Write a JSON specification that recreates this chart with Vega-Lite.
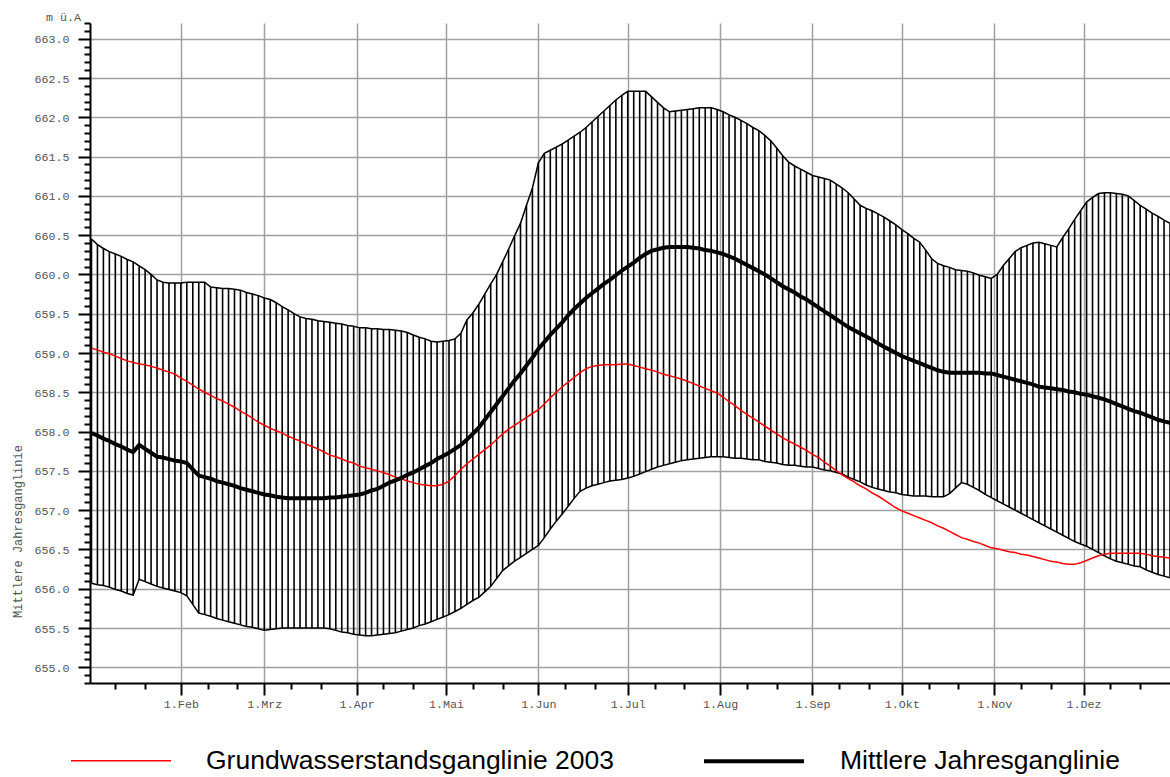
{
  "$schema": "https://vega.github.io/schema/vega-lite/v6.json",
  "width": 1080,
  "height": 660,
  "autosize": {"type": "none"},
  "padding": {"left": 90, "top": 23, "right": 0, "bottom": 94},
  "background": "white",
  "config": {"view": {"stroke": null}},
  "data": {"values": [
{"d":1,"hi":660.45,"lo":656.07,"m":657.98,"gw":659.06},
{"d":3,"hi":660.38,"lo":656.05,"m":657.95,"gw":659.04},
{"d":5,"hi":660.33,"lo":656.04,"m":657.91,"gw":659.01},
{"d":7,"hi":660.29,"lo":656.02,"m":657.88,"gw":658.99},
{"d":9,"hi":660.26,"lo":655.99,"m":657.84,"gw":658.96},
{"d":11,"hi":660.23,"lo":655.97,"m":657.81,"gw":658.93},
{"d":13,"hi":660.19,"lo":655.94,"m":657.77,"gw":658.90},
{"d":15,"hi":660.16,"lo":655.92,"m":657.74,"gw":658.88},
{"d":17,"hi":660.11,"lo":656.12,"m":657.83,"gw":658.86},
{"d":19,"hi":660.06,"lo":656.09,"m":657.78,"gw":658.85},
{"d":21,"hi":660.00,"lo":656.06,"m":657.73,"gw":658.83},
{"d":23,"hi":659.93,"lo":656.03,"m":657.68,"gw":658.81},
{"d":25,"hi":659.90,"lo":656.01,"m":657.67,"gw":658.78},
{"d":27,"hi":659.89,"lo":655.99,"m":657.65,"gw":658.76},
{"d":29,"hi":659.89,"lo":655.97,"m":657.63,"gw":658.73},
{"d":31,"hi":659.89,"lo":655.95,"m":657.62,"gw":658.68},
{"d":33,"hi":659.90,"lo":655.91,"m":657.60,"gw":658.64},
{"d":35,"hi":659.90,"lo":655.80,"m":657.52,"gw":658.59},
{"d":37,"hi":659.90,"lo":655.69,"m":657.44,"gw":658.54},
{"d":39,"hi":659.90,"lo":655.67,"m":657.42,"gw":658.50},
{"d":41,"hi":659.84,"lo":655.65,"m":657.40,"gw":658.46},
{"d":43,"hi":659.83,"lo":655.62,"m":657.37,"gw":658.42},
{"d":45,"hi":659.82,"lo":655.60,"m":657.35,"gw":658.39},
{"d":47,"hi":659.82,"lo":655.58,"m":657.33,"gw":658.35},
{"d":49,"hi":659.81,"lo":655.56,"m":657.31,"gw":658.31},
{"d":51,"hi":659.80,"lo":655.54,"m":657.28,"gw":658.26},
{"d":53,"hi":659.77,"lo":655.52,"m":657.26,"gw":658.22},
{"d":55,"hi":659.75,"lo":655.51,"m":657.24,"gw":658.17},
{"d":57,"hi":659.73,"lo":655.49,"m":657.22,"gw":658.12},
{"d":59,"hi":659.70,"lo":655.47,"m":657.20,"gw":658.08},
{"d":61,"hi":659.68,"lo":655.48,"m":657.19,"gw":658.04},
{"d":63,"hi":659.64,"lo":655.49,"m":657.17,"gw":658.01},
{"d":65,"hi":659.59,"lo":655.50,"m":657.16,"gw":657.98},
{"d":67,"hi":659.55,"lo":655.50,"m":657.15,"gw":657.94},
{"d":69,"hi":659.50,"lo":655.50,"m":657.15,"gw":657.91},
{"d":71,"hi":659.46,"lo":655.50,"m":657.15,"gw":657.88},
{"d":73,"hi":659.44,"lo":655.50,"m":657.15,"gw":657.84},
{"d":75,"hi":659.43,"lo":655.50,"m":657.15,"gw":657.81},
{"d":77,"hi":659.41,"lo":655.50,"m":657.15,"gw":657.78},
{"d":79,"hi":659.40,"lo":655.50,"m":657.15,"gw":657.74},
{"d":81,"hi":659.39,"lo":655.49,"m":657.16,"gw":657.70},
{"d":83,"hi":659.38,"lo":655.47,"m":657.16,"gw":657.68},
{"d":85,"hi":659.37,"lo":655.45,"m":657.17,"gw":657.65},
{"d":87,"hi":659.35,"lo":655.44,"m":657.18,"gw":657.62},
{"d":89,"hi":659.34,"lo":655.42,"m":657.19,"gw":657.60},
{"d":91,"hi":659.32,"lo":655.41,"m":657.20,"gw":657.56},
{"d":93,"hi":659.32,"lo":655.40,"m":657.22,"gw":657.54},
{"d":95,"hi":659.31,"lo":655.40,"m":657.25,"gw":657.52},
{"d":97,"hi":659.31,"lo":655.41,"m":657.27,"gw":657.50},
{"d":99,"hi":659.30,"lo":655.42,"m":657.31,"gw":657.48},
{"d":101,"hi":659.30,"lo":655.43,"m":657.35,"gw":657.45},
{"d":103,"hi":659.29,"lo":655.44,"m":657.38,"gw":657.42},
{"d":105,"hi":659.28,"lo":655.46,"m":657.41,"gw":657.40},
{"d":107,"hi":659.26,"lo":655.48,"m":657.45,"gw":657.37},
{"d":109,"hi":659.23,"lo":655.50,"m":657.48,"gw":657.35},
{"d":111,"hi":659.20,"lo":655.53,"m":657.52,"gw":657.33},
{"d":113,"hi":659.18,"lo":655.55,"m":657.56,"gw":657.32},
{"d":115,"hi":659.15,"lo":655.58,"m":657.60,"gw":657.31},
{"d":117,"hi":659.14,"lo":655.61,"m":657.65,"gw":657.31},
{"d":119,"hi":659.15,"lo":655.64,"m":657.69,"gw":657.33},
{"d":121,"hi":659.16,"lo":655.67,"m":657.73,"gw":657.37},
{"d":123,"hi":659.18,"lo":655.71,"m":657.78,"gw":657.44},
{"d":125,"hi":659.25,"lo":655.75,"m":657.83,"gw":657.52},
{"d":127,"hi":659.42,"lo":655.80,"m":657.90,"gw":657.59},
{"d":129,"hi":659.51,"lo":655.85,"m":657.97,"gw":657.65},
{"d":131,"hi":659.62,"lo":655.89,"m":658.05,"gw":657.71},
{"d":133,"hi":659.75,"lo":655.96,"m":658.15,"gw":657.77},
{"d":135,"hi":659.88,"lo":656.03,"m":658.25,"gw":657.83},
{"d":137,"hi":660.00,"lo":656.13,"m":658.35,"gw":657.90},
{"d":139,"hi":660.16,"lo":656.23,"m":658.45,"gw":657.97},
{"d":141,"hi":660.32,"lo":656.29,"m":658.55,"gw":658.03},
{"d":143,"hi":660.49,"lo":656.35,"m":658.65,"gw":658.08},
{"d":145,"hi":660.65,"lo":656.40,"m":658.74,"gw":658.13},
{"d":147,"hi":660.88,"lo":656.45,"m":658.84,"gw":658.18},
{"d":149,"hi":661.10,"lo":656.50,"m":658.94,"gw":658.23},
{"d":151,"hi":661.42,"lo":656.55,"m":659.05,"gw":658.28},
{"d":153,"hi":661.54,"lo":656.65,"m":659.14,"gw":658.35},
{"d":155,"hi":661.58,"lo":656.76,"m":659.23,"gw":658.43},
{"d":157,"hi":661.62,"lo":656.86,"m":659.31,"gw":658.50},
{"d":159,"hi":661.66,"lo":656.95,"m":659.39,"gw":658.57},
{"d":161,"hi":661.71,"lo":657.05,"m":659.48,"gw":658.63},
{"d":163,"hi":661.76,"lo":657.15,"m":659.56,"gw":658.69},
{"d":165,"hi":661.81,"lo":657.24,"m":659.63,"gw":658.75},
{"d":167,"hi":661.87,"lo":657.28,"m":659.70,"gw":658.80},
{"d":169,"hi":661.94,"lo":657.31,"m":659.76,"gw":658.83},
{"d":171,"hi":662.01,"lo":657.33,"m":659.82,"gw":658.84},
{"d":173,"hi":662.08,"lo":657.35,"m":659.88,"gw":658.85},
{"d":175,"hi":662.15,"lo":657.37,"m":659.93,"gw":658.85},
{"d":177,"hi":662.22,"lo":657.38,"m":659.99,"gw":658.85},
{"d":179,"hi":662.28,"lo":657.39,"m":660.05,"gw":658.86},
{"d":181,"hi":662.33,"lo":657.41,"m":660.10,"gw":658.86},
{"d":183,"hi":662.33,"lo":657.43,"m":660.15,"gw":658.84},
{"d":185,"hi":662.33,"lo":657.46,"m":660.21,"gw":658.82},
{"d":187,"hi":662.33,"lo":657.49,"m":660.26,"gw":658.80},
{"d":189,"hi":662.26,"lo":657.52,"m":660.30,"gw":658.78},
{"d":191,"hi":662.19,"lo":657.55,"m":660.32,"gw":658.76},
{"d":193,"hi":662.12,"lo":657.57,"m":660.34,"gw":658.73},
{"d":195,"hi":662.07,"lo":657.59,"m":660.35,"gw":658.71},
{"d":197,"hi":662.08,"lo":657.61,"m":660.35,"gw":658.69},
{"d":199,"hi":662.09,"lo":657.63,"m":660.35,"gw":658.67},
{"d":201,"hi":662.10,"lo":657.64,"m":660.35,"gw":658.64},
{"d":203,"hi":662.11,"lo":657.65,"m":660.34,"gw":658.61},
{"d":205,"hi":662.12,"lo":657.66,"m":660.33,"gw":658.58},
{"d":207,"hi":662.12,"lo":657.67,"m":660.31,"gw":658.55},
{"d":209,"hi":662.12,"lo":657.68,"m":660.30,"gw":658.52},
{"d":211,"hi":662.10,"lo":657.68,"m":660.28,"gw":658.49},
{"d":213,"hi":662.07,"lo":657.68,"m":660.26,"gw":658.44},
{"d":215,"hi":662.03,"lo":657.67,"m":660.23,"gw":658.38},
{"d":217,"hi":662.00,"lo":657.66,"m":660.20,"gw":658.33},
{"d":219,"hi":661.96,"lo":657.66,"m":660.16,"gw":658.27},
{"d":221,"hi":661.92,"lo":657.65,"m":660.12,"gw":658.22},
{"d":223,"hi":661.87,"lo":657.64,"m":660.08,"gw":658.17},
{"d":225,"hi":661.83,"lo":657.64,"m":660.04,"gw":658.12},
{"d":227,"hi":661.77,"lo":657.62,"m":660.00,"gw":658.07},
{"d":229,"hi":661.70,"lo":657.61,"m":659.95,"gw":658.02},
{"d":231,"hi":661.61,"lo":657.60,"m":659.90,"gw":657.97},
{"d":233,"hi":661.51,"lo":657.58,"m":659.85,"gw":657.92},
{"d":235,"hi":661.43,"lo":657.57,"m":659.81,"gw":657.88},
{"d":237,"hi":661.38,"lo":657.57,"m":659.77,"gw":657.84},
{"d":239,"hi":661.34,"lo":657.56,"m":659.72,"gw":657.80},
{"d":241,"hi":661.30,"lo":657.55,"m":659.68,"gw":657.76},
{"d":243,"hi":661.26,"lo":657.55,"m":659.63,"gw":657.71},
{"d":245,"hi":661.24,"lo":657.53,"m":659.58,"gw":657.67},
{"d":247,"hi":661.22,"lo":657.51,"m":659.53,"gw":657.61},
{"d":249,"hi":661.20,"lo":657.50,"m":659.48,"gw":657.56},
{"d":251,"hi":661.15,"lo":657.48,"m":659.43,"gw":657.50},
{"d":253,"hi":661.10,"lo":657.46,"m":659.38,"gw":657.45},
{"d":255,"hi":661.04,"lo":657.42,"m":659.33,"gw":657.40},
{"d":257,"hi":660.96,"lo":657.39,"m":659.29,"gw":657.36},
{"d":259,"hi":660.88,"lo":657.36,"m":659.25,"gw":657.31},
{"d":261,"hi":660.84,"lo":657.32,"m":659.21,"gw":657.27},
{"d":263,"hi":660.81,"lo":657.29,"m":659.17,"gw":657.22},
{"d":265,"hi":660.77,"lo":657.27,"m":659.12,"gw":657.18},
{"d":267,"hi":660.73,"lo":657.25,"m":659.08,"gw":657.13},
{"d":269,"hi":660.68,"lo":657.23,"m":659.04,"gw":657.08},
{"d":271,"hi":660.63,"lo":657.22,"m":659.00,"gw":657.03},
{"d":273,"hi":660.57,"lo":657.20,"m":658.96,"gw":656.99},
{"d":275,"hi":660.52,"lo":657.19,"m":658.93,"gw":656.96},
{"d":277,"hi":660.46,"lo":657.18,"m":658.90,"gw":656.93},
{"d":279,"hi":660.41,"lo":657.18,"m":658.87,"gw":656.90},
{"d":281,"hi":660.31,"lo":657.18,"m":658.84,"gw":656.87},
{"d":283,"hi":660.20,"lo":657.17,"m":658.81,"gw":656.84},
{"d":285,"hi":660.14,"lo":657.17,"m":658.78,"gw":656.80},
{"d":287,"hi":660.11,"lo":657.17,"m":658.76,"gw":656.77},
{"d":289,"hi":660.09,"lo":657.21,"m":658.75,"gw":656.73},
{"d":291,"hi":660.06,"lo":657.28,"m":658.75,"gw":656.69},
{"d":293,"hi":660.05,"lo":657.35,"m":658.75,"gw":656.65},
{"d":295,"hi":660.04,"lo":657.33,"m":658.75,"gw":656.63},
{"d":297,"hi":660.02,"lo":657.29,"m":658.75,"gw":656.60},
{"d":299,"hi":659.99,"lo":657.25,"m":658.75,"gw":656.58},
{"d":301,"hi":659.97,"lo":657.20,"m":658.74,"gw":656.55},
{"d":303,"hi":659.95,"lo":657.16,"m":658.74,"gw":656.52},
{"d":305,"hi":660.00,"lo":657.12,"m":658.72,"gw":656.51},
{"d":307,"hi":660.11,"lo":657.08,"m":658.70,"gw":656.49},
{"d":309,"hi":660.20,"lo":657.04,"m":658.68,"gw":656.47},
{"d":311,"hi":660.29,"lo":657.00,"m":658.66,"gw":656.46},
{"d":313,"hi":660.34,"lo":656.96,"m":658.64,"gw":656.44},
{"d":315,"hi":660.37,"lo":656.92,"m":658.62,"gw":656.43},
{"d":317,"hi":660.40,"lo":656.88,"m":658.60,"gw":656.41},
{"d":319,"hi":660.41,"lo":656.84,"m":658.57,"gw":656.39},
{"d":321,"hi":660.39,"lo":656.80,"m":658.56,"gw":656.37},
{"d":323,"hi":660.37,"lo":656.76,"m":658.55,"gw":656.35},
{"d":325,"hi":660.35,"lo":656.72,"m":658.54,"gw":656.34},
{"d":327,"hi":660.47,"lo":656.68,"m":658.53,"gw":656.32},
{"d":329,"hi":660.58,"lo":656.64,"m":658.51,"gw":656.31},
{"d":331,"hi":660.70,"lo":656.60,"m":658.50,"gw":656.31},
{"d":333,"hi":660.81,"lo":656.57,"m":658.48,"gw":656.33},
{"d":335,"hi":660.92,"lo":656.54,"m":658.47,"gw":656.36},
{"d":337,"hi":660.98,"lo":656.50,"m":658.45,"gw":656.39},
{"d":339,"hi":661.03,"lo":656.46,"m":658.43,"gw":656.42},
{"d":341,"hi":661.04,"lo":656.42,"m":658.41,"gw":656.44},
{"d":343,"hi":661.04,"lo":656.38,"m":658.38,"gw":656.45},
{"d":345,"hi":661.03,"lo":656.35,"m":658.35,"gw":656.45},
{"d":347,"hi":661.02,"lo":656.33,"m":658.32,"gw":656.45},
{"d":349,"hi":661.00,"lo":656.31,"m":658.29,"gw":656.45},
{"d":351,"hi":660.94,"lo":656.29,"m":658.26,"gw":656.45},
{"d":353,"hi":660.88,"lo":656.28,"m":658.24,"gw":656.45},
{"d":355,"hi":660.83,"lo":656.24,"m":658.21,"gw":656.44},
{"d":357,"hi":660.78,"lo":656.21,"m":658.18,"gw":656.42},
{"d":359,"hi":660.74,"lo":656.18,"m":658.15,"gw":656.41},
{"d":361,"hi":660.69,"lo":656.16,"m":658.13,"gw":656.40},
{"d":363,"hi":660.65,"lo":656.14,"m":658.11,"gw":656.39}
  ]},
  "encoding": {
    "x": {
      "field": "d", "type": "quantitative",
      "scale": {"domain": [0.5, 363], "nice": false, "zero": false},
      "axis": {
        "title": "m ü.A",
        "titleX": -27, "titleY": -663, "titleAlign": "center", "titleBaseline": "alphabetic",
        "titleFont": "Liberation Mono", "titleFontSize": 11.7, "titleFontWeight": "normal", "titleColor": "#555555",
        "tickCount": 1000,
        "values": [9,19,31,40,50,59,68,78,90,99,109,120,129,139,151,160,170,181,190,200,212,221,231,243,252,262,273,282,292,304,313,323,334,343,353],
        "labelExpr": "indexof([31,59,90,120,151,181,212,243,273,304,334], datum.value) >= 0 ? '1.' + ['Feb','Mrz','Apr','Mai','Jun','Jul','Aug','Sep','Okt','Nov','Dez'][indexof([31,59,90,120,151,181,212,243,273,304,334], datum.value)] : ''",
        "labelFont": "Liberation Mono", "labelFontSize": 11.7, "labelColor": "#555555",
        "labelPadding": 3, "labelFlush": false, "labelOverlap": false,
        "domainColor": "black", "domainWidth": 2,
        "tickColor": "black", "tickWidth": 2,
        "tickSize": {"condition": {"test": "indexof([31,59,90,120,151,181,212,243,273,304,334], datum.value) >= 0", "value": 12}, "value": 6},
        "grid": true, "gridColor": "#a0a0a0", "gridWidth": 1.5,
        "gridOpacity": {"condition": {"test": "indexof([31,59,90,120,151,181,212,243,273,304,334], datum.value) >= 0", "value": 1}, "value": 0}
      }
    }
  },
  "layer": [
    {
      "mark": {"type": "rule", "color": "black", "strokeWidth": 1.6},
      "encoding": {
        "y": {
          "field": "lo", "type": "quantitative",
          "scale": {"domain": [654.8, 663.2], "nice": false, "zero": false},
          "axis": {
            "title": "Mittlere Jahresganglinie",
            "titleX": -69, "titleY": 508, "titleAngle": -90, "titleAlign": "center", "titleBaseline": "alphabetic",
            "titleFont": "Liberation Mono", "titleFontSize": 12, "titleFontWeight": "normal", "titleColor": "#555555",
            "tickCount": 1000,
            "values": [654.8,654.9,655,655.1,655.2,655.3,655.4,655.5,655.6,655.7,655.8,655.9,656,656.1,656.2,656.3,656.4,656.5,656.6,656.7,656.8,656.9,657,657.1,657.2,657.3,657.4,657.5,657.6,657.7,657.8,657.9,658,658.1,658.2,658.3,658.4,658.5,658.6,658.7,658.8,658.9,659,659.1,659.2,659.3,659.4,659.5,659.6,659.7,659.8,659.9,660,660.1,660.2,660.3,660.4,660.5,660.6,660.7,660.8,660.9,661,661.1,661.2,661.3,661.4,661.5,661.6,661.7,661.8,661.9,662,662.1,662.2,662.3,662.4,662.5,662.6,662.7,662.8,662.9,663,663.1,663.2],
            "labelExpr": "abs(datum.value*2 - round(datum.value*2)) < 0.01 ? format(datum.value, '.1f') : ''",
            "labelFont": "Liberation Mono", "labelFontSize": 11.7, "labelColor": "#555555",
            "labelPadding": 9, "labelFlush": false, "labelOverlap": false,
            "domainColor": "black", "domainWidth": 2,
            "tickColor": "black", "tickWidth": 2,
            "tickSize": {"condition": {"test": "abs(datum.value*2 - round(datum.value*2)) < 0.01", "value": 12}, "value": 6},
            "grid": true, "gridColor": "#a0a0a0", "gridWidth": 1.5,
            "gridOpacity": {"condition": {"test": "abs(datum.value*2 - round(datum.value*2)) < 0.01", "value": 1}, "value": 0}
          }
        },
        "y2": {"field": "hi"}
      }
    },
    {
      "mark": {"type": "line", "color": "black", "strokeWidth": 1.5},
      "encoding": {"y": {"field": "hi", "type": "quantitative"}}
    },
    {
      "mark": {"type": "line", "color": "black", "strokeWidth": 1.5},
      "encoding": {"y": {"field": "lo", "type": "quantitative"}}
    },
    {
      "transform": [{"fold": ["gw", "m"], "as": ["series", "value"]}],
      "mark": {"type": "line"},
      "encoding": {
        "y": {"field": "value", "type": "quantitative"},
        "color": {
          "field": "series", "type": "nominal",
          "scale": {"domain": ["gw", "m"], "range": ["#ff0000", "#000000"]},
          "legend": {
            "title": null, "orient": "none", "legendX": -20, "legendY": 686,
            "direction": "horizontal", "symbolType": "stroke", "symbolSize": 10000,
            "symbolStrokeWidth": 2, "padding": 0, "offset": 0,
            "labelFont": "Liberation Sans", "labelFontSize": 26.5, "labelColor": "black",
            "labelOffset": 34, "labelLimit": 1000, "columnPadding": 81,
            "labelExpr": "datum.value === 'gw' ? 'Grundwasserstandsganglinie 2003' : 'Mittlere Jahresganglinie'",
            "encode": {"symbols": {"update": {"strokeWidth": {"signal": "datum.value === 'm' ? 4 : 2"}}}}
          }
        },
        "strokeWidth": {
          "field": "series", "type": "nominal",
          "scale": {"domain": ["gw", "m"], "range": [1.5, 4]},
          "legend": null
        }
      }
    }
  ]
}
